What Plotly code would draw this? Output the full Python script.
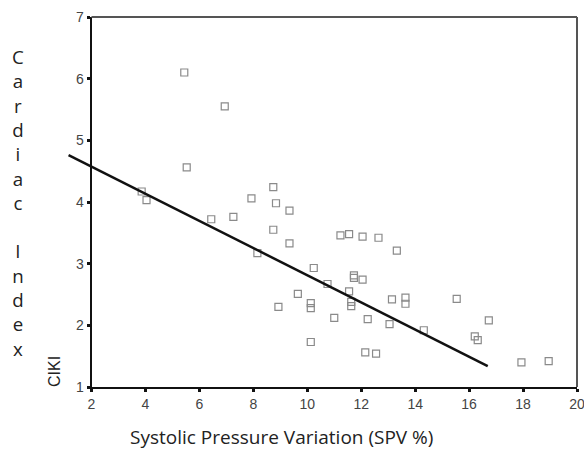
import plotly.graph_objects as go

# ---- data ----
spv = [3.86, 4.04, 6.44, 7.26, 7.93, 8.74, 8.84, 9.34, 8.74, 9.34, 8.15, 10.24,
       10.75, 9.65, 10.13, 10.13, 8.93, 11.00, 10.13, 5.44, 6.94, 5.53,
       11.23, 11.55, 12.05, 12.64, 13.32, 11.73, 11.73, 12.05, 11.55, 11.63,
       11.63, 13.14, 13.64, 13.64, 15.54, 12.24, 13.05, 14.32, 16.73, 16.21,
       16.32, 12.15, 12.55, 17.94, 18.95]
ci = [4.17, 4.03, 3.72, 3.76, 4.06, 4.24, 3.98, 3.86, 3.55, 3.33, 3.17, 2.93,
      2.67, 2.51, 2.36, 2.28, 2.30, 2.12, 1.73, 6.10, 5.55, 4.56,
      3.46, 3.48, 3.44, 3.42, 3.21, 2.81, 2.77, 2.74, 2.55, 2.38,
      2.31, 2.42, 2.45, 2.35, 2.43, 2.10, 2.02, 1.92, 2.08, 1.82,
      1.76, 1.56, 1.54, 1.40, 1.42]
fit_x = [1.15, 16.69]
fit_y = [4.76, 1.34]
x_ticks = [2, 4, 6, 8, 10, 12, 14, 16, 18, 20]
y_ticks = [1, 2, 3, 4, 5, 6, 7]
y_letters = list("Cardiac") + ["\u00a0"] + list("Index")

# ---- layout geometry (page body margin removed by post_script) ----
W, H = 584, 454
ML, MR, MT, MB = 60, 7, 17, 67
PW = W - ML - MR
PH = H - MT - MB
plot_left_px = 91.5
x_lo, x_hi = 2, 20
dom0 = (plot_left_px - ML) / PW
units_per_px = (x_hi - x_lo) / (W - MR - plot_left_px)
x2_lo = x_lo - (plot_left_px - ML) * units_per_px

def px(xp):
    return (xp - ML) / PW

def py(yp):
    return 1 - (yp - MT) / PH

fig = go.Figure()
fig.add_trace(go.Scatter(
    x=fit_x, y=fit_y, mode="lines", xaxis="x2", yaxis="y2",
    line=dict(color="#111111", width=2.5), showlegend=False, hoverinfo="skip"))
fig.add_trace(go.Scatter(
    x=spv, y=ci, mode="markers", xaxis="x", yaxis="y",
    marker=dict(symbol="square-open", size=7, color="#8a8a8a", line=dict(width=1.2)),
    showlegend=False, hoverinfo="skip"))

tickfont = dict(family="Liberation Sans, Arial, sans-serif", size=14, color="#444444")
fig.update_layout(
    template="none",
    width=W, height=H,
    margin=dict(l=ML, r=MR, t=MT, b=MB, autoexpand=False),
    paper_bgcolor="white", plot_bgcolor="rgba(0,0,0,0)",
    xaxis=dict(domain=[dom0, 1], range=[x_lo, x_hi], tickvals=x_ticks, anchor="y",
               automargin=False, ticklabeloverflow="allow",
               showgrid=False, zeroline=False, showline=True, linecolor="#111111",
               linewidth=2, ticks="outside", ticklen=3, tickwidth=3, tickcolor="#111111",
               tickfont=tickfont),
    yaxis=dict(domain=[0, 1], range=[1, 7], tickvals=y_ticks, anchor="x",
               automargin=False, ticklabeloverflow="allow",
               showgrid=False, zeroline=False,
               showline=True, linecolor="#111111", linewidth=2, ticks="outside",
               ticklen=3, tickwidth=3, tickcolor="#111111", tickfont=tickfont),
    xaxis2=dict(domain=[0, 1], range=[x2_lo, x_hi], visible=False, anchor="y2",
                automargin=False, showgrid=False, zeroline=False),
    yaxis2=dict(domain=[0, 1], range=[1, 7], visible=False, anchor="x2",
                automargin=False, showgrid=False, zeroline=False),
)
# grey top and right frame lines
fig.add_shape(type="line", xref="x domain", yref="y domain", x0=0, x1=1, y0=1, y1=1,
              line=dict(color="#555555", width=2))
fig.add_shape(type="line", xref="x domain", yref="y domain", x0=1, x1=1, y0=0, y1=1,
              line=dict(color="#555555", width=2))

fig.add_annotation(xref="paper", yref="paper", x=px(18), y=py(202.5),
                   text="<br>".join(y_letters), showarrow=False,
                   xanchor="center", yanchor="middle",
                   font=dict(family="Open Sans, sans-serif", size=18.7, color="#222222"))
fig.add_annotation(xref="paper", yref="paper", x=px(54), y=py(372),
                   text="CIKI", textangle=-90, showarrow=False,
                   xanchor="center", yanchor="middle",
                   font=dict(family="Liberation Sans, Arial, sans-serif", size=16, color="#222222"))
fig.add_annotation(xref="paper", yref="paper", x=px(281.5), y=py(437),
                   text="Systolic Pressure Variation (SPV %)", showarrow=False,
                   xanchor="center", yanchor="middle",
                   font=dict(family="Open Sans, sans-serif", size=19, color="#222222"))

fig.write_html("out.html",
               config={"displayModeBar": False},
               post_script="document.body.style.margin='0';document.body.style.overflow='hidden';")
